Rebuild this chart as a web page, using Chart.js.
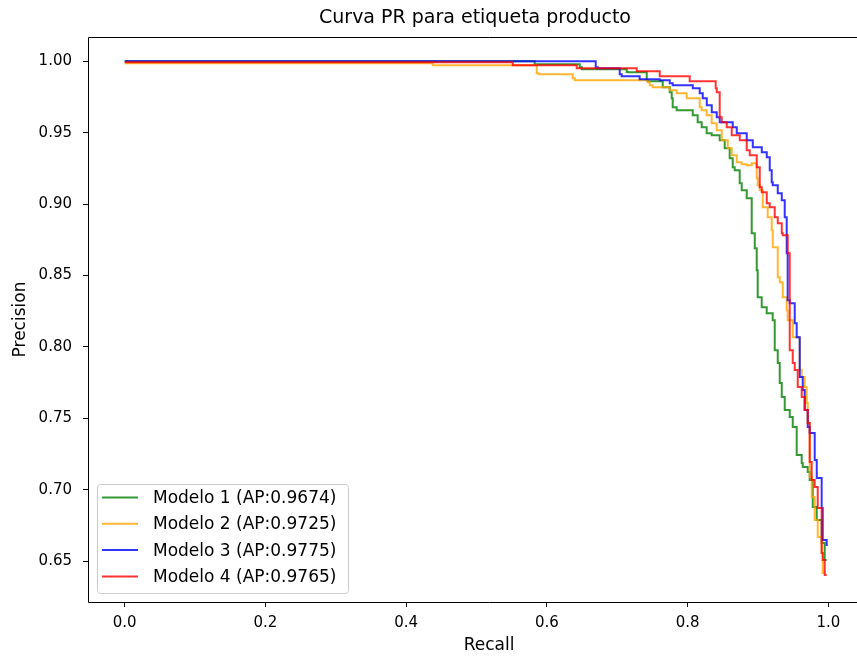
<!DOCTYPE html>
<html>
<head>
<meta charset="utf-8">
<title>Curva PR para etiqueta producto</title>
<script src="https://cdn.jsdelivr.net/npm/chart.js@4.4.1/dist/chart.umd.min.js"></script>
<style>
  html, body { margin: 0; padding: 0; overflow: hidden; background: #fff; }
  #wrap { width: 857px; height: 660px; overflow: hidden; position: relative; }
  #prChart { position: absolute; left: 0; top: 0; }
</style>
</head>
<body>
<div id="wrap"><canvas id="prChart" width="950" height="660"></canvas></div>
<script>
const modelNames = ['Modelo 1', 'Modelo 2', 'Modelo 3', 'Modelo 4'];
const apScores = ['0.9674', '0.9725', '0.9775', '0.9765'];
const lineColors = ['rgba(0,128,0,0.8)', 'rgba(255,165,0,0.8)', 'rgba(0,0,255,0.8)', 'rgba(255,0,0,0.8)'];

// Modelo 1
const recall1 = [0, 0.5826, 0.5826, 0.6466, 0.6494, 0.7134, 0.7148, 0.7418, 0.7432, 0.7645,
  0.7745, 0.7773, 0.7787, 0.7844, 0.7915, 0.8072, 0.8142, 0.8199, 0.8270, 0.8341,
  0.8455, 0.8526, 0.8597, 0.8640, 0.8668, 0.8739, 0.8768, 0.8839, 0.8910, 0.8910,
  0.8953, 0.8981, 0.8995, 0.8995, 0.9052, 0.9123, 0.9208, 0.9237, 0.9237, 0.9280,
  0.9308, 0.9337, 0.9379, 0.9450, 0.9493, 0.9549, 0.9549, 0.9620, 0.9635, 0.9706,
  0.9734, 0.9777, 0.9834, 0.9904, 0.9947, 0.9975];
const precision1 = [1.0, 1.0, 0.9979, 0.9979, 0.9958, 0.9944, 0.9925, 0.9923, 0.9867, 0.9860,
  0.9818, 0.9783, 0.9741, 0.9678, 0.9657, 0.9657, 0.9622, 0.9573, 0.9538, 0.9496,
  0.9482, 0.9447, 0.9391, 0.9321, 0.9258, 0.9237, 0.9146, 0.9097, 0.9041, 0.8866,
  0.8796, 0.8691, 0.8537, 0.8446, 0.8348, 0.8278, 0.8236, 0.8187, 0.8047, 0.7977,
  0.7886, 0.7746, 0.7648, 0.7557, 0.7508, 0.7438, 0.7256, 0.7242, 0.7186, 0.7158,
  0.7123, 0.7067, 0.6878, 0.6787, 0.6626, 0.6507];

// Modelo 2
const recall2 = [0, 0.4377, 0.4377, 0.5855, 0.5883, 0.6366, 0.6395, 0.6466, 0.7432, 0.7460,
  0.7503, 0.7745, 0.7844, 0.7986, 0.8057, 0.8171, 0.8199, 0.8270, 0.8341, 0.8412,
  0.8484, 0.8569, 0.8626, 0.8697, 0.8768, 0.8839, 0.8910, 0.8981, 0.8995, 0.9024,
  0.9066, 0.9137, 0.9194, 0.9209, 0.9280, 0.9308, 0.9351, 0.9407, 0.9421, 0.9493,
  0.9592, 0.9620, 0.9663, 0.9691, 0.9706, 0.9734, 0.9762, 0.9805, 0.9848, 0.9904,
  0.9919, 0.9947];
const precision2 = [0.9986, 0.9986, 0.9972, 0.9972, 0.9916, 0.9909, 0.9881, 0.9867, 0.9867, 0.9853,
  0.9832, 0.9818, 0.9797, 0.9776, 0.9741, 0.9741, 0.9678, 0.9657, 0.9622, 0.9566,
  0.9517, 0.9447, 0.9391, 0.9342, 0.9293, 0.9279, 0.9272, 0.9286, 0.9181, 0.9132,
  0.9097, 0.8978, 0.8908, 0.8817, 0.8698, 0.8488, 0.8453, 0.8348, 0.8257, 0.8187,
  0.8068, 0.7837, 0.7788, 0.7718, 0.7606, 0.7466, 0.7088, 0.6948, 0.6787, 0.6668,
  0.6556, 0.6416];

// Modelo 3
const recall3 = [0, 0.6693, 0.6722, 0.7034, 0.7062, 0.7318, 0.7603, 0.7745, 0.7787, 0.8072,
  0.8171, 0.8214, 0.8271, 0.8342, 0.8413, 0.8455, 0.8640, 0.8697, 0.8839, 0.8925,
  0.9053, 0.9124, 0.9166, 0.9194, 0.9209, 0.9280, 0.9337, 0.9379, 0.9407, 0.9407,
  0.9421, 0.9421, 0.9450, 0.9521, 0.9549, 0.9592, 0.9592, 0.9635, 0.9663, 0.9706,
  0.9734, 0.9805, 0.9834, 0.9904, 0.9919, 0.9975, 0.9990];
const precision3 = [1.0, 1.0, 0.9958, 0.9951, 0.9909, 0.9895, 0.9874, 0.9867, 0.9846, 0.9832,
  0.9811, 0.9776, 0.9741, 0.9692, 0.9643, 0.9608, 0.9573, 0.9538, 0.9496, 0.9447,
  0.9398, 0.9363, 0.9328, 0.9237, 0.9153, 0.9132, 0.9076, 0.9027, 0.8908, 0.8796,
  0.8656, 0.8467, 0.8327, 0.8306, 0.8166, 0.8068, 0.7928, 0.7788, 0.7697, 0.7557,
  0.7438, 0.7396, 0.7207, 0.7081, 0.6871, 0.6647, 0.6612];

// Modelo 4
const recall4 = [0, 0.5514, 0.5514, 0.6423, 0.6423, 0.7276, 0.7276, 0.7603, 0.7603, 0.8029,
  0.8057, 0.8398, 0.8413, 0.8455, 0.8455, 0.8484, 0.8555, 0.8626, 0.8740, 0.8839,
  0.8882, 0.8981, 0.9024, 0.9053, 0.9124, 0.9166, 0.9237, 0.9280, 0.9337, 0.9351,
  0.9422, 0.9450, 0.9450, 0.9493, 0.9521, 0.9564, 0.9620, 0.9663, 0.9706, 0.9734,
  0.9762, 0.9805, 0.9848, 0.9904, 0.9919, 0.9947, 0.9975];
const precision4 = [0.9993, 0.9993, 0.9972, 0.9972, 0.9951, 0.9951, 0.9930, 0.9930, 0.9916, 0.9895,
  0.9860, 0.9860, 0.9811, 0.9783, 0.9692, 0.9608, 0.9573, 0.9538, 0.9482, 0.9447,
  0.9377, 0.9342, 0.9258, 0.9118, 0.9083, 0.9006, 0.8978, 0.8908, 0.8866, 0.8796,
  0.8782, 0.8656, 0.8047, 0.7977, 0.7886, 0.7837, 0.7718, 0.7648, 0.7557, 0.7466,
  0.7193, 0.7067, 0.7018, 0.6871, 0.6556, 0.6507, 0.6402];

const recalls = [recall1, recall2, recall3, recall4];
const precisions = [precision1, precision2, precision3, precision4];

Chart.defaults.font.family = '"DejaVu Sans", sans-serif';
Chart.defaults.color = '#000';

// spines: left, top and bottom (the right one falls outside the picture)
const frame = {
  id: 'frame',
  afterDatasetsDraw(chart) {
    const { ctx, chartArea: a } = chart;
    ctx.save();
    ctx.strokeStyle = '#000';
    ctx.lineWidth = 1;
    ctx.beginPath();
    ctx.moveTo(a.right, a.top + 0.5);
    ctx.lineTo(a.left + 0.5, a.top + 0.5);
    ctx.lineTo(a.left + 0.5, a.bottom + 0.5);
    ctx.lineTo(a.right, a.bottom + 0.5);
    ctx.stroke();
    ctx.restore();
  }
};

// legend box in the lower left corner of the plot
const legendBox = {
  id: 'legendBox',
  afterDatasetsDraw(chart) {
    const { ctx, chartArea } = chart;
    const w = 251, h = 109;
    const x0 = chartArea.left + 9;
    const y0 = chartArea.bottom - 9 - h;
    ctx.save();
    ctx.beginPath();
    ctx.roundRect(x0 + 0.5, y0 + 0.5, w, h, 3);
    ctx.fillStyle = 'rgba(255,255,255,0.8)';
    ctx.fill();
    ctx.strokeStyle = '#cccccc';
    ctx.lineWidth = 1;
    ctx.stroke();
    ctx.font = '17px "DejaVu Sans"';
    ctx.textBaseline = 'middle';
    chart.data.datasets.forEach((ds, i) => {
      const y = y0 + 13.5 + i * 26.3;
      ctx.strokeStyle = ds.borderColor;
      ctx.lineWidth = 2;
      ctx.beginPath();
      ctx.moveTo(x0 + 5, y);
      ctx.lineTo(x0 + 41, y);
      ctx.stroke();
      ctx.fillStyle = '#000';
      ctx.fillText(ds.label, x0 + 56, y + 1);
    });
    ctx.restore();
  }
};

const datasets = modelNames.map((name, i) => ({
  label: name + ' (AP:' + apScores[i] + ')',
  data: recalls[i].map((r, j) => ({ x: r, y: precisions[i][j] })),
  xAxisID: 'x',
  yAxisID: 'y',
  borderColor: lineColors[i],
  backgroundColor: lineColors[i],
  borderWidth: 2,
  pointRadius: 0,
  showLine: true,
  stepped: 'after',
  fill: false,
  order: 4 - i
}));

const tickGrid = { drawOnChartArea: false, drawTicks: true, tickLength: 5, color: '#000', lineWidth: 1 };

new Chart(document.getElementById('prChart'), {
  type: 'scatter',
  data: { datasets: datasets },
  options: {
    responsive: false,
    devicePixelRatio: 1,
    animation: false,
    layout: { padding: 0 },
    plugins: {
      legend: { display: false },
      tooltip: { enabled: false },
      title: {
        display: true,
        text: 'Curva PR para etiqueta producto',
        color: '#000',
        font: { size: 19, weight: 'normal' },
        padding: { top: 6.6, bottom: 7.6 }
      }
    },
    scales: {
      x: {
        type: 'linear',
        min: -0.0522,
        max: 1.0875,
        afterFit: s => { s.height = 58; },
        border: { display: false },
        grid: tickGrid,
        ticks: {
          stepSize: 0.2,
          includeBounds: false,
          maxRotation: 0,
          padding: 7,
          font: { size: 15 },
          color: '#000',
          callback: v => v.toFixed(1)
        },
        title: {
          display: true,
          text: 'Recall',
          color: '#000',
          font: { size: 17 },
          padding: { top: 0, bottom: 4 }
        }
      },
      y: {
        type: 'linear',
        min: 0.6213,
        max: 1.017,
        afterFit: s => { s.width = 88; },
        border: { display: false },
        grid: tickGrid,
        ticks: {
          stepSize: 0.05,
          includeBounds: false,
          padding: 11,
          font: { size: 15 },
          color: '#000',
          callback: v => v.toFixed(2)
        },
        title: {
          display: true,
          text: 'Precision',
          color: '#000',
          font: { size: 17 },
          padding: { top: 10, bottom: 0 }
        }
      },
      // empty box on the right so the plot runs past the picture edge
      // while the title stays centred on the whole figure
      yRight: {
        position: 'right',
        display: true,
        afterFit: s => { s.width = 60; },
        border: { display: false },
        grid: { display: false },
        ticks: { display: false }
      }
    }
  },
  plugins: [frame, legendBox]
});
</script>
</body>
</html>
